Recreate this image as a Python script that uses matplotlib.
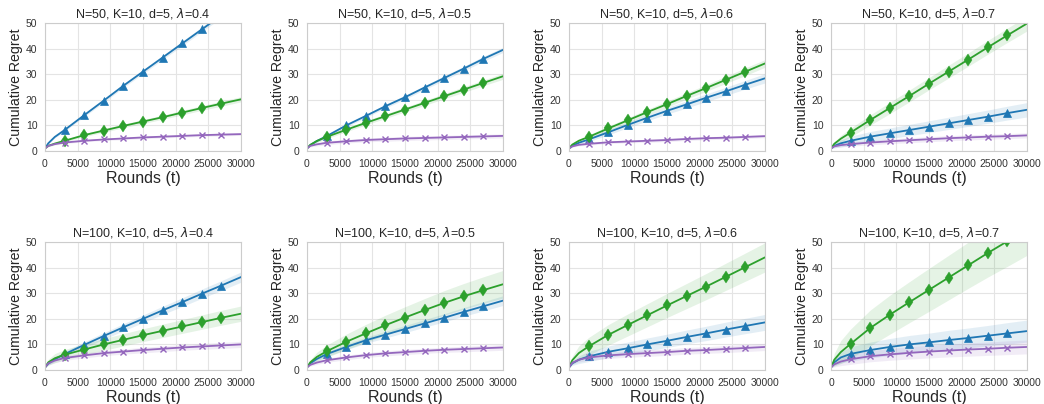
import matplotlib
matplotlib.use("Agg")
import matplotlib.pyplot as plt
import seaborn as sns
import numpy as np

sns.set_style("whitegrid")
plt.rcParams['font.family'] = ['Liberation Sans', 'DejaVu Sans']
plt.rcParams['mathtext.fontset'] = 'dejavusans'

# rounds at which the curves are sampled
rounds = [0, 500, 1500, 3000, 6000, 9000, 12000, 15000, 18000, 21000, 24000, 27000, 30000]

titles = [
    "N=50, K=10, d=5, $\\lambda$=0.4",
    "N=50, K=10, d=5, $\\lambda$=0.5",
    "N=50, K=10, d=5, $\\lambda$=0.6",
    "N=50, K=10, d=5, $\\lambda$=0.7",
    "N=100, K=10, d=5, $\\lambda$=0.4",
    "N=100, K=10, d=5, $\\lambda$=0.5",
    "N=100, K=10, d=5, $\\lambda$=0.6",
    "N=100, K=10, d=5, $\\lambda$=0.7",
]

# mean cumulative regret, one list per panel
blue_mean = [
    [1.0, 3.0, 5.5, 8.2, 14.0, 19.7, 25.5, 31.0, 36.5, 42.0, 47.5, 53.0, 58.5],
    [1.0, 2.3, 3.9, 5.8, 10.0, 13.7, 17.5, 21.0, 24.8, 28.5, 32.2, 36.0, 39.5],
    [1.0, 2.0, 3.2, 4.5, 7.3, 10.2, 13.0, 15.7, 18.2, 20.8, 23.3, 25.9, 28.4],
    [1.0, 2.0, 3.0, 4.0, 5.6, 6.9, 8.2, 9.5, 10.8, 12.1, 13.4, 14.8, 16.1],
    [1.0, 2.5, 4.2, 6.2, 9.8, 13.3, 16.7, 20.0, 23.3, 26.5, 29.8, 33.0, 36.3],
    [1.0, 2.6, 4.3, 6.2, 9.0, 11.6, 13.8, 16.0, 18.2, 20.4, 22.7, 24.9, 27.1],
    [1.0, 2.6, 4.0, 5.3, 7.1, 8.5, 10.0, 11.4, 12.9, 14.3, 15.8, 17.2, 18.6],
    [1.0, 3.0, 4.9, 6.3, 7.8, 9.0, 10.0, 10.8, 11.7, 12.5, 13.4, 14.3, 15.2],
]
green_mean = [
    [1.0, 2.0, 2.9, 4.0, 6.2, 8.0, 9.8, 11.5, 13.2, 15.0, 16.8, 18.5, 20.2],
    [1.0, 2.4, 3.9, 5.5, 8.3, 11.0, 13.6, 16.2, 18.8, 21.4, 24.0, 26.6, 29.2],
    [1.0, 2.5, 4.0, 5.5, 8.8, 12.0, 15.2, 18.3, 21.5, 24.6, 27.8, 31.0, 34.2],
    [1.0, 2.8, 4.8, 7.2, 12.1, 16.8, 21.5, 26.3, 31.0, 35.7, 40.5, 45.2, 49.8],
    [1.0, 3.0, 4.6, 6.0, 8.0, 10.0, 11.8, 13.6, 15.3, 17.0, 18.7, 20.4, 22.0],
    [1.0, 3.0, 5.1, 7.3, 11.0, 14.3, 17.5, 20.5, 23.4, 26.2, 28.8, 31.2, 33.5],
    [1.0, 3.8, 6.6, 9.2, 13.7, 17.6, 21.4, 25.2, 28.9, 32.6, 36.4, 40.2, 44.0],
    [1.0, 4.0, 7.0, 10.2, 16.4, 21.6, 26.5, 31.3, 36.1, 40.9, 45.7, 50.3, 55.0],
]
purple_mean = [
    [1.0, 2.0, 2.7, 3.3, 4.0, 4.5, 4.9, 5.3, 5.6, 5.9, 6.2, 6.4, 6.6],
    [1.0, 2.0, 2.6, 3.2, 3.8, 4.3, 4.6, 4.9, 5.1, 5.3, 5.5, 5.7, 5.9],
    [1.0, 1.8, 2.4, 2.8, 3.4, 3.7, 4.0, 4.3, 4.7, 5.0, 5.2, 5.5, 5.8],
    [1.0, 1.8, 2.3, 2.7, 3.3, 3.8, 4.2, 4.6, 5.0, 5.3, 5.6, 5.8, 6.1],
    [1.0, 2.6, 3.7, 4.7, 5.7, 6.6, 7.2, 7.8, 8.3, 8.8, 9.2, 9.6, 10.0],
    [1.0, 2.0, 2.9, 3.8, 4.9, 5.8, 6.5, 7.0, 7.5, 7.9, 8.2, 8.5, 8.8],
    [1.0, 2.8, 4.0, 4.9, 5.7, 6.2, 6.6, 7.0, 7.5, 7.8, 8.2, 8.6, 9.0],
    [1.0, 2.2, 3.3, 4.2, 5.4, 6.1, 6.7, 7.2, 7.6, 8.0, 8.3, 8.7, 9.0],
]

# half-width of the shaded band around each mean
blue_band = [
    [0.1, 0.3, 0.4, 0.5, 0.6, 0.7, 0.7, 0.8, 0.8, 0.9, 0.9, 1.0, 1.0],
    [0.1, 0.3, 0.4, 0.5, 0.6, 0.7, 0.7, 0.8, 0.8, 0.9, 0.9, 1.0, 1.0],
    [0.1, 0.4, 0.6, 0.8, 1.0, 1.1, 1.2, 1.3, 1.4, 1.5, 1.6, 1.7, 1.8],
    [0.1, 0.8, 1.4, 1.8, 2.0, 2.1, 2.2, 2.3, 2.4, 2.5, 2.6, 2.7, 2.8],
    [0.1, 0.5, 0.8, 1.0, 1.2, 1.3, 1.4, 1.5, 1.6, 1.7, 1.8, 1.9, 2.0],
    [0.1, 0.4, 0.7, 0.9, 1.1, 1.2, 1.3, 1.4, 1.5, 1.6, 1.7, 1.8, 1.9],
    [0.1, 0.8, 1.5, 2.0, 2.3, 2.4, 2.5, 2.6, 2.7, 2.8, 2.9, 3.0, 3.1],
    [0.1, 1.2, 2.2, 2.8, 3.1, 3.3, 3.5, 3.6, 3.8, 3.9, 4.0, 4.2, 4.3],
]
green_band = [
    [0.1, 0.3, 0.4, 0.5, 0.6, 0.7, 0.7, 0.8, 0.8, 0.9, 0.9, 1.0, 1.0],
    [0.1, 0.4, 0.6, 0.7, 0.8, 0.8, 0.9, 0.9, 1.0, 1.0, 1.1, 1.1, 1.2],
    [0.1, 0.4, 0.6, 0.8, 0.9, 1.0, 1.1, 1.2, 1.2, 1.3, 1.4, 1.5, 1.5],
    [0.1, 0.8, 1.3, 1.7, 2.0, 2.2, 2.3, 2.4, 2.5, 2.6, 2.7, 2.8, 2.9],
    [0.1, 1.2, 1.8, 2.0, 2.2, 2.3, 2.4, 2.5, 2.6, 2.7, 2.8, 2.9, 3.0],
    [0.1, 1.0, 1.8, 2.4, 3.0, 3.5, 3.9, 4.2, 4.5, 4.8, 5.0, 5.2, 5.4],
    [0.1, 1.5, 2.8, 3.5, 4.0, 4.3, 4.5, 4.7, 4.9, 5.1, 5.3, 5.5, 5.7],
    [0.1, 2.5, 4.5, 5.8, 7.0, 7.6, 8.0, 8.4, 8.7, 9.0, 9.4, 9.8, 10.2],
]
purple_band = [
    [0.1, 0.3, 0.4, 0.4, 0.4, 0.4, 0.5, 0.5, 0.5, 0.5, 0.5, 0.5, 0.5],
    [0.1, 0.4, 0.6, 0.7, 0.7, 0.7, 0.8, 0.8, 0.8, 0.8, 0.8, 0.8, 0.8],
    [0.1, 0.3, 0.4, 0.5, 0.5, 0.5, 0.6, 0.6, 0.6, 0.6, 0.6, 0.6, 0.6],
    [0.1, 0.5, 0.7, 0.8, 0.9, 0.9, 1.0, 1.0, 1.0, 1.0, 1.0, 1.0, 1.0],
    [0.1, 0.6, 0.8, 0.9, 1.0, 1.0, 1.0, 1.1, 1.1, 1.1, 1.1, 1.2, 1.2],
    [0.1, 0.5, 0.7, 0.8, 0.9, 0.9, 1.0, 1.0, 1.0, 1.0, 1.1, 1.1, 1.1],
    [0.1, 0.6, 0.9, 1.1, 1.2, 1.2, 1.3, 1.3, 1.3, 1.3, 1.4, 1.4, 1.4],
    [0.1, 1.0, 1.6, 2.0, 2.2, 2.3, 2.4, 2.5, 2.5, 2.6, 2.6, 2.7, 2.7],
]

# (mean, band, colour, marker, marker size, marker edge width)
series = [
    (blue_mean, blue_band, "#1f77b4", "^", 5.5, 0.5),
    (green_mean, green_band, "#2ca02c", "d", 6.5, 0.3),
    (purple_mean, purple_band, "#9467bd", "x", 4.5, 1.0),
]

W, H = 1044, 404
fig = plt.figure(figsize=(W / 100, H / 100), dpi=100)

col_left = [45, 307, 569, 831]
row_top = [23, 242]
ax_w, ax_h = 196, 128

t = np.array(rounds)
marker_idx = list(range(3, 12))

for i in range(8):
    r, c = divmod(i, 4)
    left = col_left[c] / W
    bottom = 1 - (row_top[r] + ax_h) / H
    ax = fig.add_axes([left, bottom, ax_w / W, ax_h / H])

    for mean, band, color, marker, ms, mew in series:
        m = np.array(mean[i])
        b = np.array(band[i])
        ax.fill_between(t, m - b, m + b, color=color, alpha=0.12, linewidth=0)
        ax.plot(t, m, color=color, linewidth=1.3, marker=marker, markersize=ms,
                markevery=marker_idx, markeredgewidth=mew)

    ax.set_xlim(0, 30000)
    ax.set_ylim(0, 50)
    ax.set_xticks(range(0, 30001, 5000))
    ax.set_yticks(range(0, 51, 10))
    ax.tick_params(axis="both", labelsize=7.5, pad=2, labelcolor="#333333")
    ax.set_title(titles[i], fontsize=9, pad=4)
    ax.set_xlabel("Rounds (t)", fontsize=11.5, labelpad=2)
    ax.set_ylabel("Cumulative Regret", fontsize=10.2, labelpad=2)
    for s in ax.spines.values():
        s.set_color("#cccccc")
    ax.grid(color="#e4e4e4", linewidth=0.8)

fig.savefig("out.png", dpi=100)
